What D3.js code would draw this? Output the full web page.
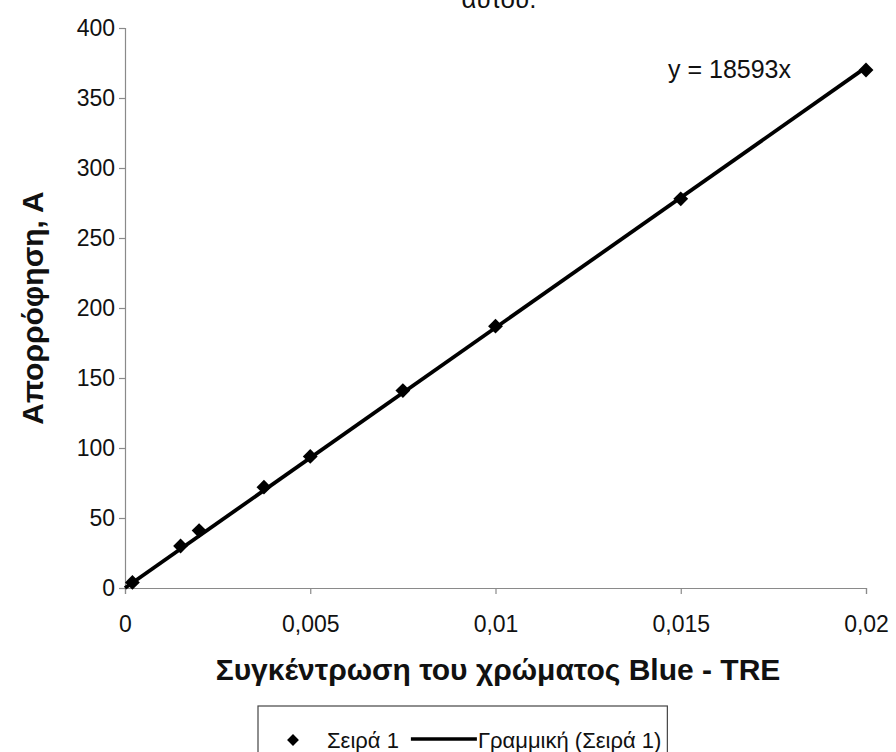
<!DOCTYPE html>
<html>
<head>
<meta charset="utf-8">
<script src="https://cdn.jsdelivr.net/npm/d3@7"></script>
<style>
  html, body { margin: 0; padding: 0; background: #fff; }
  svg { display: block; font-family: "Liberation Sans", Arial, sans-serif; }
</style>
</head>
<body>
<svg id="chart" width="896" height="752"></svg>
<script>
// Calibration data: dye concentration vs absorbance
const concentration = [0.0002, 0.0015, 0.002, 0.00375, 0.005, 0.0075, 0.01, 0.015, 0.02];
const absorbance    = [4, 30, 41, 72, 94, 141, 187, 278, 370];

// Linear trendline through the origin
const slope = 18593;
const trendX = [0, 0.02];

const xTicks = [0, 0.005, 0.01, 0.015, 0.02];
const xTickLabels = ["0", "0,005", "0,01", "0,015", "0,02"];
const yTicks = [0, 50, 100, 150, 200, 250, 300, 350, 400];

const xTitle = "Συγκέντρωση του χρώματος Blue - TRE";
const yTitle = "Απορρόφηση, Α";
const seriesName = "Σειρά 1";
const trendName = "Γραμμική (Σειρά 1)";
const equation = "y = 18593x";
const captionTail = "αυτού.";

const svg = d3.select("#chart");

const x = d3.scaleLinear().domain([0, 0.02]).range([125, 866]);
const y = d3.scaleLinear().domain([0, 400]).range([588, 28]);

// Last line of the caption above the plot (runs off the top edge)
svg.append("text")
  .attr("x", 499).attr("y", 8)
  .attr("text-anchor", "middle")
  .attr("font-size", 26)
  .attr("fill", "#111")
  .text(captionTail);

// Y axis
const yAxis = svg.append("g")
  .attr("transform", `translate(${x(0)},0)`)
  .call(d3.axisLeft(y).tickValues(yTicks).tickSize(6).tickPadding(4).tickFormat(d3.format("d")));
yAxis.select(".domain").attr("stroke", "#8a8a8a").attr("stroke-width", 1.2);
yAxis.selectAll(".tick line").attr("stroke", "#8a8a8a").attr("stroke-width", 1.2);
yAxis.selectAll(".tick text")
  .attr("font-size", 23)
  .attr("font-family", "Liberation Sans, Arial, sans-serif")
  .attr("fill", "#111");

// X axis
const xAxis = svg.append("g")
  .attr("transform", `translate(0,${y(0)})`)
  .call(d3.axisBottom(x).tickValues(xTicks).tickSize(6).tickPadding(22)
    .tickFormat((d, i) => xTickLabels[i]));
xAxis.select(".domain").attr("stroke", "#8a8a8a").attr("stroke-width", 1.2);
xAxis.selectAll(".tick line").attr("stroke", "#8a8a8a").attr("stroke-width", 1.2);
xAxis.selectAll(".tick text")
  .attr("font-size", 23)
  .attr("font-family", "Liberation Sans, Arial, sans-serif")
  .attr("fill", "#111");

// Axis titles
svg.append("text")
  .attr("transform", "translate(43,308) rotate(-90)")
  .attr("text-anchor", "middle")
  .attr("font-size", 30)
  .attr("font-weight", "bold")
  .attr("fill", "#111")
  .text(yTitle);

svg.append("text")
  .attr("x", 498).attr("y", 680)
  .attr("text-anchor", "middle")
  .attr("font-size", 30)
  .attr("font-weight", "bold")
  .attr("fill", "#111")
  .text(xTitle);

// Trendline
const line = d3.line().x(d => x(d)).y(d => y(slope * d));
svg.append("path")
  .datum(trendX)
  .attr("d", line)
  .attr("fill", "none")
  .attr("stroke", "#000")
  .attr("stroke-width", 3.8);

// Data markers: squares turned 45°
const marker = d3.symbol().type(d3.symbolSquare).size(110);
svg.append("g").selectAll("path")
  .data(concentration.map((c, i) => [c, absorbance[i]]))
  .join("path")
  .attr("transform", d => `translate(${x(d[0])},${y(d[1])}) rotate(45)`)
  .attr("d", marker)
  .attr("fill", "#000");

// Equation label
svg.append("text")
  .attr("x", 668).attr("y", 78)
  .attr("font-size", 25)
  .attr("fill", "#111")
  .text(equation);

// Legend
const legend = svg.append("g");
const box = legend.append("rect")
  .attr("x", 258).attr("y", 706)
  .attr("height", 60)
  .attr("fill", "#fff")
  .attr("stroke", "#444")
  .attr("stroke-width", 1.2);
legend.append("path")
  .attr("transform", "translate(293,740) rotate(45)")
  .attr("d", d3.symbol().type(d3.symbolSquare).size(70))
  .attr("fill", "#000");
const t1 = legend.append("text")
  .attr("x", 327).attr("y", 748)
  .attr("font-size", 22)
  .attr("fill", "#111")
  .text(seriesName);
const lx = 327 + t1.node().getComputedTextLength() + 12;
legend.append("line")
  .attr("x1", lx).attr("x2", lx + 66)
  .attr("y1", 739).attr("y2", 739)
  .attr("stroke", "#000").attr("stroke-width", 3.5);
const t2 = legend.append("text")
  .attr("x", lx + 67).attr("y", 748)
  .attr("font-size", 22)
  .attr("fill", "#111")
  .text(trendName);
const end = t2.node().getComputedTextLength() + lx + 67;
box.attr("width", end + 6 - 258);
</script>
</body>
</html>
